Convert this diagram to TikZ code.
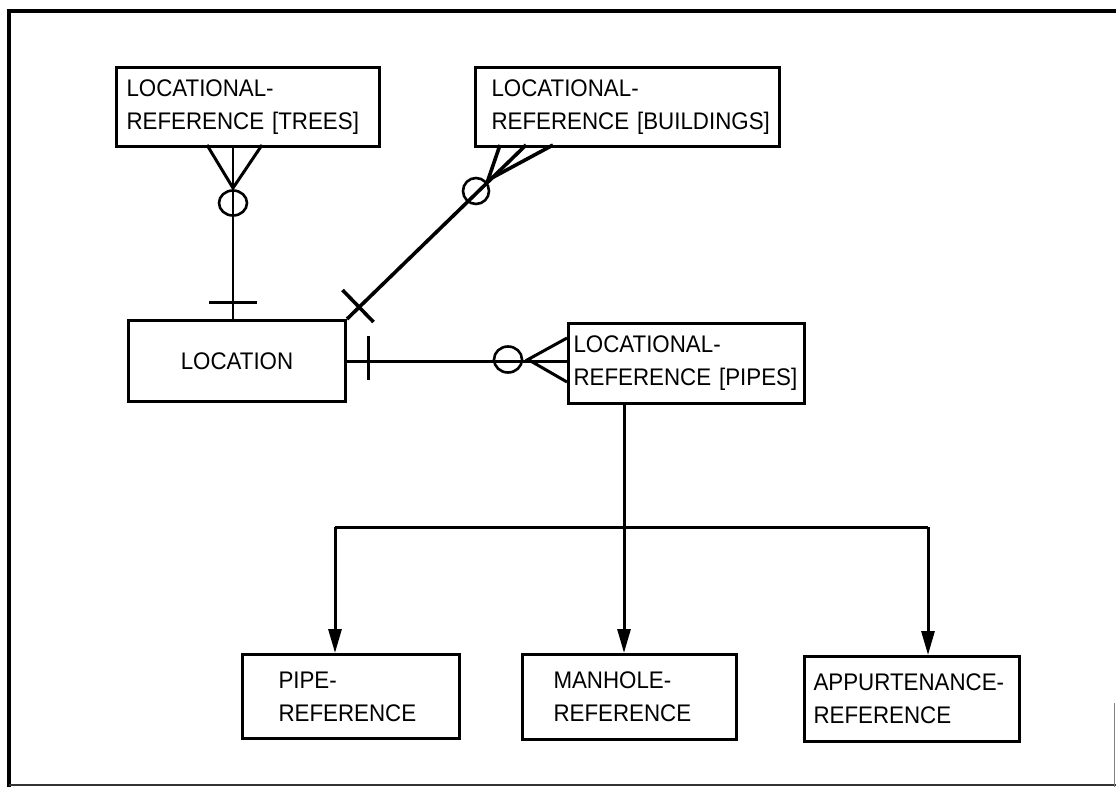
\documentclass[tikz,border=0pt]{standalone}
\usepackage{fontspec}
\setmainfont{Liberation Sans}[FakeStretch=0.93]
\usetikzlibrary{arrows.meta,calc}
\begin{document}
\begin{tikzpicture}[x=1pt,y=-1pt,
  ebox/.style={draw,line width=3pt,inner ysep=0pt,anchor=north west,align=left,
               font=\fontsize{24}{33}\selectfont},
  conn/.style={line width=3pt},
  thinconn/.style={line width=2pt},
  fatconn/.style={line width=3.6pt},
  ring/.style={line width=2.6pt},
  arr/.style={line width=3pt,-{Triangle[width=13pt,length=24pt]}}]
\useasboundingbox (0,0) rectangle (1116,787);
% frame
\draw[line width=4.5pt] (9,787) -- (9,11) -- (1116,11);
\draw[line width=2.2pt,black!80] (9,785) -- (1116,785);
\draw[line width=1pt,black!50] (1114,703) -- (1114,787);
% entities
\node[ebox,text width=243pt,inner xsep=10pt,minimum height=79pt] (trees) at (115,66)
  {LOCATIONAL-\\\mbox{REFERENCE [TREES]}};
\node[ebox,text width=272pt,inner xsep=16pt,minimum height=79pt] (bui) at (474,66)
  {LOCATIONAL-\\\mbox{REFERENCE [BUILDINGS]}};
\node[ebox,align=center,text width=197pt,inner xsep=10pt,minimum height=81pt] (loc) at (127,319)
  {LOCATION};
\node[ebox,text width=226pt,inner xsep=5pt,minimum height=80pt] (pipes) at (567,322)
  {LOCATIONAL-\\\mbox{REFERENCE [PIPES]}};
\node[ebox,text width=145pt,inner xsep=36pt,minimum height=84pt] (pref) at (241,653)
  {PIPE-\\REFERENCE};
\node[ebox,text width=152pt,inner xsep=31pt,minimum height=85pt] (mref) at (521,653)
  {MANHOLE-\\REFERENCE};
\node[ebox,text width=197pt,inner xsep=9pt,minimum height=85pt] (aref) at (803,655)
  {\mbox{APPURTENANCE-}\\REFERENCE};
% helper coordinates
\coordinate (tx) at (233,0);
\coordinate (bfoot) at (526,145);
\coordinate (bus) at (624,527);
\coordinate (busL) at (335,527);
\coordinate (busR) at (928,527);
% LOCATION -- TREES
\draw[thinconn] (trees.south -| tx) -- (loc.north -| tx);
\draw[conn] (207,145) -- (233,188) -- (262,145);
\draw[ring] (233,203) ellipse [x radius=14pt, y radius=12.5pt];
\draw[conn] (209,302) -- (257,302);
% LOCATION -- BUILDINGS
\draw[fatconn] (loc.north east) -- (bfoot);
\draw[fatconn] (500,145) -- (488,180) -- (553,145);
\draw[ring] (476,191) circle [radius=13pt];
\draw[fatconn] (342.5,290) -- (373.5,322);
% LOCATION -- PIPES
\draw[conn] (loc.east) -- (loc.east -| pipes.west);
\draw[conn] (368,336) -- (368,380);
\draw[ring] (508,359.5) ellipse [x radius=14pt, y radius=13pt];
\draw[conn] (567,338) -- (528,359.5) -- (567,382);
% subtypes
\draw[arr] (pipes.south -| bus) -- (bus |- mref.north);
\draw[conn] (busL) -- (busR);
\draw[arr] (busL) -- (busL |- pref.north);
\draw[arr] (busR) -- (busR |- aref.north);
\end{tikzpicture}
\end{document}
